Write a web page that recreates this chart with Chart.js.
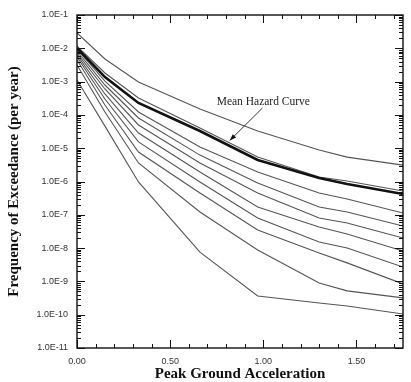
<!DOCTYPE html>
<html>
<head>
<meta charset="utf-8">
<title>Hazard curves</title>
<script src="https://cdn.jsdelivr.net/npm/chart.js@4.4.1/dist/chart.umd.min.js"></script>
<style>
  html, body { margin: 0; padding: 0; background: #fff; }
  #wrap { width: 411px; height: 382px; }
</style>
</head>
<body>
<div id="wrap"><canvas id="chart" width="411" height="382"></canvas></div>
<script>
// ---- data ----
const pga = [0, 0.15, 0.33, 0.66, 0.97, 1.30, 1.45, 1.75];

// thin fractile curves, top to bottom
const curveA = [2.88e-2, 4.78e-3, 9.7e-4, 1.50e-4, 3.29e-5, 8.8e-6, 5.4e-6, 3.1e-6];
const curveB = [1.17e-2, 1.81e-3, 3.22e-4, 4.04e-5, 5.4e-6, 1.36e-6, 1.04e-6, 5.2e-7];
const curveC = [9.5e-3, 1.04e-3, 1.22e-4, 1.09e-5, 1.93e-6, 4.5e-7, 2.98e-7, 1.13e-7];
const curveD = [8.3e-3, 7.9e-4, 8.1e-5, 6.2e-6, 9.0e-7, 1.71e-7, 1.21e-7, 4.6e-8];
const curveE = [7.2e-3, 6.0e-4, 4.98e-5, 3.6e-6, 4.5e-7, 8.0e-8, 5.7e-8, 2.01e-8];
const curveF = [6.3e-3, 4.25e-4, 2.86e-5, 1.93e-6, 1.71e-7, 4.3e-8, 2.65e-8, 8.2e-9];
const curveG = [5.5e-3, 3.0e-4, 1.54e-5, 9.7e-7, 8.0e-8, 1.52e-8, 1.01e-8, 2.7e-9];
const curveH = [4.45e-3, 1.98e-4, 7.7e-6, 4.5e-7, 3.5e-8, 7.1e-9, 3.6e-9, 8.4e-10];
const curveI = [3.15e-3, 1.22e-4, 3.6e-6, 1.21e-7, 8.8e-9, 9.0e-10, 5.2e-10, 3.2e-10];
const curveJ = [1.12e-3, 4.6e-5, 9.7e-7, 7.6e-9, 3.65e-10, 2.24e-10, 1.82e-10, 1.05e-10];

// mean hazard curve (thick)
const meanCurve = [1.02e-2, 1.37e-3, 2.28e-4, 3.29e-5, 4.43e-6, 1.27e-6, 8.4e-7, 4.2e-7];

const thinCurves = [curveA, curveB, curveC, curveD, curveE, curveF, curveG, curveH, curveI, curveJ];
const yDecades = [-11, -10, -9, -8, -7, -6, -5, -4, -3, -2, -1];
const xLabels = [0, 0.5, 1.0, 1.5];

const tickFont = { family: 'Liberation Sans, Arial, sans-serif', size: 9 };
const titleFont = { family: 'Liberation Serif, Times New Roman, serif', size: 15, weight: 'bold', lineHeight: 1 };

function toPoints(arr) {
  return arr.map((v, i) => ({ x: pga[i], y: v }));
}

// frame, inward ticks on all four sides and the mean-curve note
const framePlugin = {
  id: 'frame',
  afterDraw(chart) {
    const { ctx, chartArea: a, scales } = chart;
    const xs = scales.x, ys = scales.y;
    ctx.save();
    ctx.strokeStyle = '#111';
    ctx.lineWidth = 1.4;
    ctx.strokeRect(a.left, a.top, a.right - a.left, a.bottom - a.top);

    ctx.lineWidth = 1;
    ctx.beginPath();
    // x ticks every 0.1, long at 0.5
    for (let i = 0; i <= 17; i++) {
      const v = i / 10;
      const px = Math.round(xs.getPixelForValue(v)) + 0.5;
      const len = i % 5 === 0 ? 8 : 4;
      ctx.moveTo(px, a.bottom); ctx.lineTo(px, a.bottom - len);
      ctx.moveTo(px, a.top); ctx.lineTo(px, a.top + len);
    }
    // y ticks: decades long, 2..9 short
    yDecades.forEach(e => {
      const py = Math.round(ys.getPixelForValue(Math.pow(10, e))) + 0.5;
      ctx.moveTo(a.left, py); ctx.lineTo(a.left + 8, py);
      ctx.moveTo(a.right, py); ctx.lineTo(a.right - 8, py);
      if (e < -1) {
        for (let m = 2; m <= 9; m++) {
          const q = Math.round(ys.getPixelForValue(m * Math.pow(10, e))) + 0.5;
          ctx.moveTo(a.left, q); ctx.lineTo(a.left + 4, q);
          ctx.moveTo(a.right, q); ctx.lineTo(a.right - 4, q);
        }
      }
    });
    ctx.stroke();

    // annotation
    const tx = xs.getPixelForValue(1.0);
    const ty = ys.getPixelForValue(2.5e-4);
    ctx.fillStyle = '#222';
    ctx.font = '11.5px "Liberation Serif", "Times New Roman", serif';
    ctx.textAlign = 'center';
    ctx.textBaseline = 'middle';
    ctx.fillText('Mean Hazard Curve', tx, ty);

    const x0 = xs.getPixelForValue(0.995), y0 = ys.getPixelForValue(1.6e-4);
    const x1 = xs.getPixelForValue(0.82), y1 = ys.getPixelForValue(1.7e-5);
    ctx.strokeStyle = '#333';
    ctx.lineWidth = 1;
    ctx.beginPath();
    ctx.moveTo(x0, y0); ctx.lineTo(x1, y1);
    ctx.stroke();
    const ang = Math.atan2(y1 - y0, x1 - x0);
    ctx.fillStyle = '#111';
    ctx.beginPath();
    ctx.moveTo(x1, y1);
    ctx.lineTo(x1 - 7 * Math.cos(ang - 0.35), y1 - 7 * Math.sin(ang - 0.35));
    ctx.lineTo(x1 - 7 * Math.cos(ang + 0.35), y1 - 7 * Math.sin(ang + 0.35));
    ctx.closePath();
    ctx.fill();
    ctx.restore();
  }
};

const datasets = thinCurves.map((c, i) => ({
  label: 'curve ' + (i + 1),
  data: toPoints(c),
  borderColor: '#555',
  borderWidth: 1.1,
  pointRadius: 0,
  tension: 0,
  fill: false,
  order: 2
}));
datasets.push({
  label: 'Mean Hazard Curve',
  data: toPoints(meanCurve),
  borderColor: '#111',
  borderWidth: 2.6,
  pointRadius: 0,
  tension: 0,
  fill: false,
  order: 1
});

new Chart(document.getElementById('chart'), {
  type: 'line',
  data: { datasets },
  options: {
    responsive: false,
    animation: false,
    layout: { padding: { top: 15, right: 8, left: 0, bottom: 0 } },
    plugins: {
      legend: { display: false },
      tooltip: { enabled: false }
    },
    scales: {
      x: {
        type: 'linear',
        min: 0,
        max: 1.75,
        afterBuildTicks: (s) => { s.ticks = xLabels.map(v => ({ value: v })); },
        afterFit: (s) => { s.height = 34; },
        grid: { display: false, drawTicks: false },
        border: { display: false },
        ticks: {
          font: tickFont,
          color: '#333',
          padding: 8,
          maxRotation: 0,
          callback: (v) => Number(v).toFixed(2)
        },
        title: {
          display: true,
          text: 'Peak Ground Acceleration',
          font: titleFont,
          color: '#111',
          padding: { top: 0, bottom: 0 }
        }
      },
      y: {
        type: 'logarithmic',
        min: 1e-11,
        max: 1e-1,
        afterBuildTicks: (s) => { s.ticks = yDecades.map(e => ({ value: Math.pow(10, e) })); },
        afterFit: (s) => { s.width = 77; },
        grid: { display: false, drawTicks: false },
        border: { display: false },
        ticks: {
          font: tickFont,
          color: '#333',
          padding: 9,
          callback: (v) => '1.0E' + Math.round(Math.log10(v))
        },
        title: {
          display: true,
          text: 'Frequency of Exceedance (per year)',
          font: titleFont,
          color: '#111',
          padding: { top: 7, bottom: 7 }
        }
      }
    }
  },
  plugins: [framePlugin]
});
</script>
</body>
</html>
